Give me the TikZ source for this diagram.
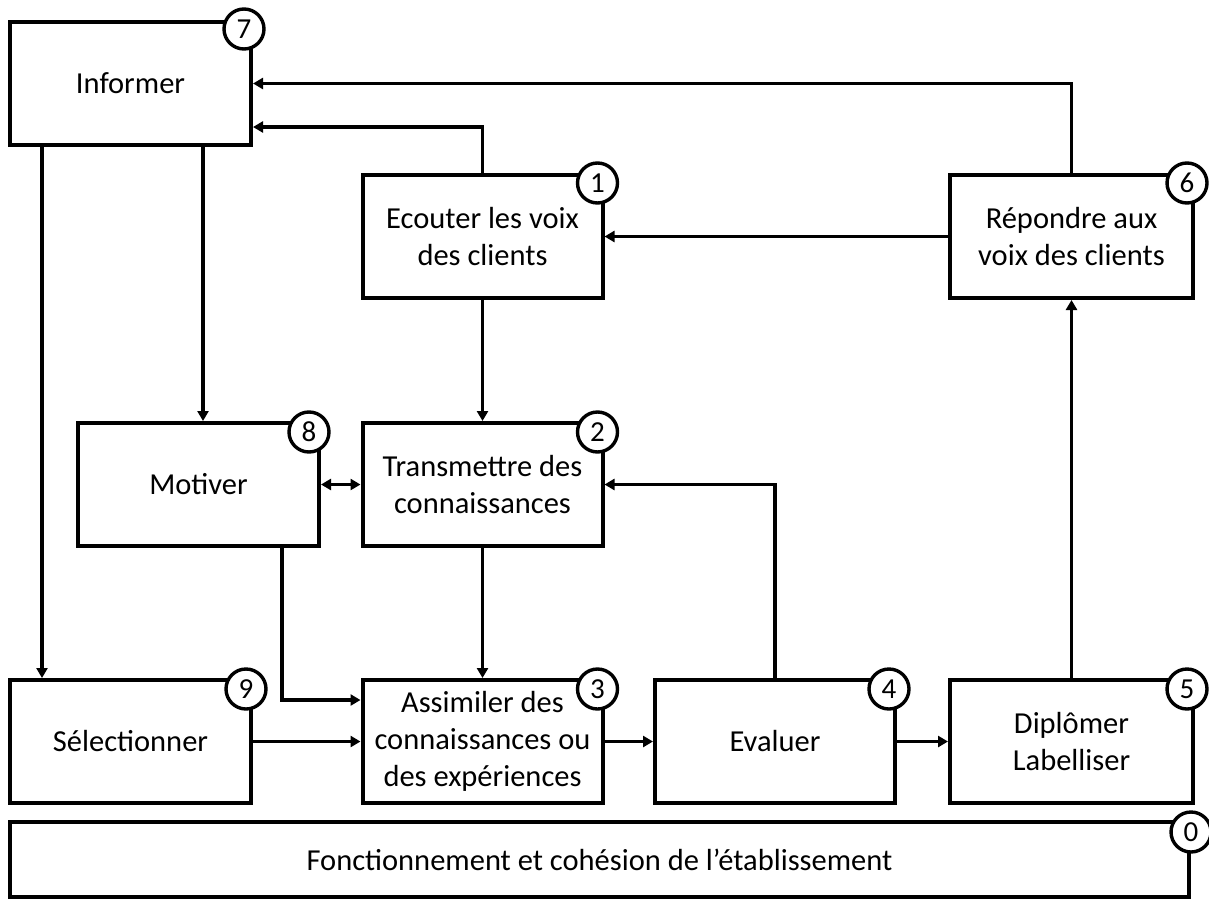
\documentclass[tikz,border=0pt]{standalone}
\usepackage{fontspec}
\setmainfont{Carlito}
\usetikzlibrary{arrows.meta,calc}
\begin{document}
\begin{tikzpicture}[x=1pt,y=-1pt,
  box/.style={draw,line width=4pt,fill=white,align=center,inner sep=0pt,
    font=\fontsize{30.5}{37}\selectfont},
  num/.style={draw,circle,line width=3.4pt,fill=white,minimum size=40pt,inner sep=0pt,
    font=\fontsize{29}{29}\selectfont},
  arr/.style={line width=3.2pt,-{Triangle[length=10pt,width=11pt]}},
  darr/.style={line width=3.2pt,{Triangle[length=10pt,width=11pt]}-{Triangle[length=10pt,width=11pt]}}
]
\useasboundingbox (0,0) rectangle (1209,910);
% boxes
\node[box,minimum width=241pt,minimum height=123pt] (inf) at (130.5,83.5) {Informer};
\node[box,minimum width=240pt,minimum height=123pt] (ec) at (482.5,236.5) {Ecouter les voix\\des clients};
\node[box,minimum width=243pt,minimum height=123pt] (rep) at (1071.5,236.5) {Répondre aux\\voix des clients};
\node[box,minimum width=241pt,minimum height=123pt] (mot) at (198.5,484.5) {Motiver};
\node[box,minimum width=240pt,minimum height=123pt] (tr) at (482.5,484.5) {Transmettre des\\connaissances};
\node[box,minimum width=241pt,minimum height=123pt] (sel) at (130.5,741.5) {Sélectionner};
\node[box,minimum width=240pt,minimum height=123pt] (as) at (482.5,741.5) {Assimiler des\\connaissances ou\\des expériences};
\node[box,minimum width=240pt,minimum height=123pt] (ev) at (775,741.5) {Evaluer};
\node[box,minimum width=243pt,minimum height=123pt] (dip) at (1071.5,741.5) {Diplômer\\Labelliser};
\node[box,minimum width=1179pt,minimum height=75pt] (fon) at (599.5,859.5) {Fonctionnement et cohésion de l’établissement};
% numbers
\node[num] (n7) at ([xshift=-9pt,yshift=-9pt]inf.north east) {7};
\node[num] (n1) at ([xshift=-7pt,yshift=-10pt]ec.north east) {1};
\node[num] (n6) at ([xshift=-8pt,yshift=-10pt]rep.north east) {6};
\node[num] (n8) at ([xshift=-12pt,yshift=-11pt]mot.north east) {8};
\node[num] (n2) at ([xshift=-7pt,yshift=-11pt]tr.north east) {2};
\node[num] (n9) at ([xshift=-7pt,yshift=-11pt]sel.north east) {9};
\node[num] (n3) at ([xshift=-7pt,yshift=-11pt]as.north east) {3};
\node[num] (n4) at ([xshift=-8pt,yshift=-11pt]ev.north east) {4};
\node[num] (n5) at ([xshift=-8pt,yshift=-11pt]dip.north east) {5};
\node[num] (n0) at ([xshift=0pt,yshift=-12pt]fon.north east) {0};
% connectors
\draw[arr] (rep.north) |- (inf.east);
\draw[arr] (ec.north) |- ([yshift=-43.5pt]inf.east);
\draw[arr] (rep.west) -- (ec.east);
\draw[arr] (ec.south) -- (tr.north);
\draw[arr] ([xshift=72.5pt]inf.south) -- ([xshift=72.5pt]inf.south |- mot.north);
\draw[arr] ([xshift=-88.5pt]inf.south) -- ([xshift=-88.5pt]inf.south |- sel.north);
\draw[darr] (mot.east) -- (tr.west);
\draw[arr] (tr.south) -- (as.north);
\draw[arr] ([xshift=83.5pt]mot.south) |- ([yshift=41.5pt]as.west);
\draw[arr] (sel.east) -- (as.west);
\draw[arr] (as.east) -- (ev.west);
\draw[arr] (ev.north) |- (tr.east);
\draw[arr] (ev.east) -- (dip.west);
\draw[arr] (dip.north) -- (rep.south);
\end{tikzpicture}
\end{document}
